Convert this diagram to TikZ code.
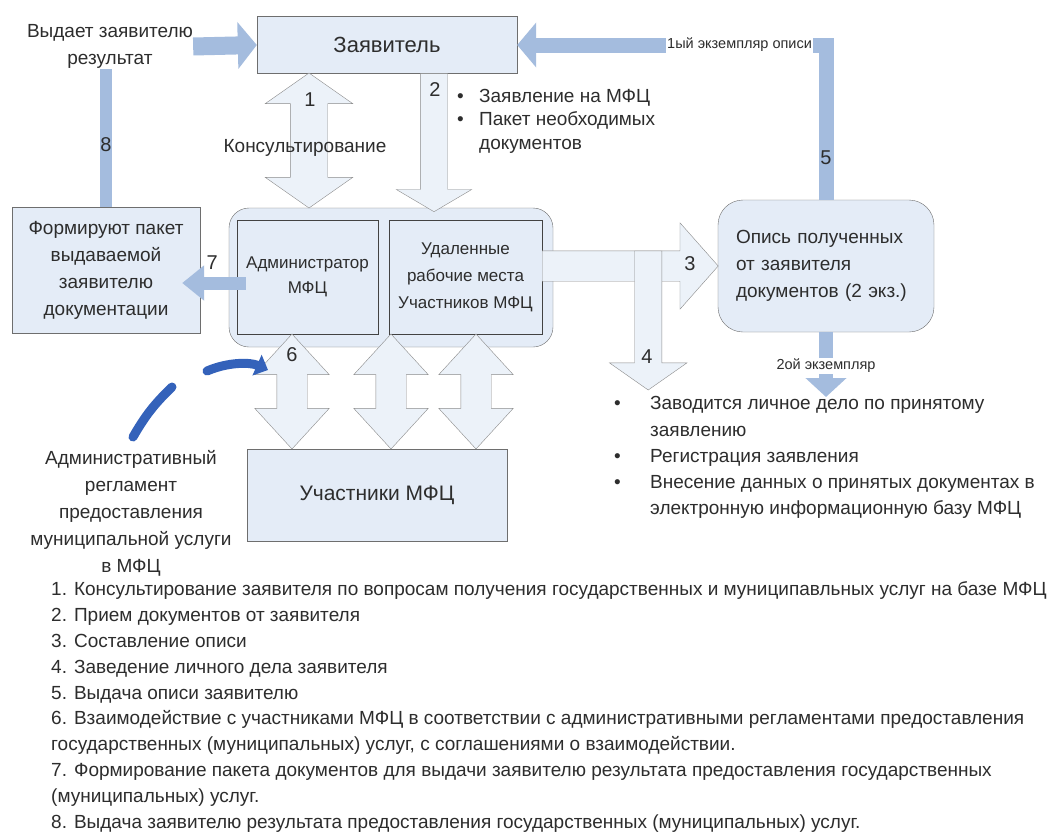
\documentclass[tikz,border=0pt]{standalone}
\usepackage{fontspec}
\setmainfont{Liberation Sans}
\usetikzlibrary{shapes.arrows, arrows.meta, positioning}
\definecolor{boxblue}{RGB}{228,236,247}
\definecolor{barblue}{RGB}{164,188,222}
\definecolor{edgegray}{RGB}{110,110,110}
\definecolor{curveblue}{RGB}{52,98,186}
\definecolor{txtgray}{RGB}{45,45,45}

\begin{document}
\begin{tikzpicture}[x=1pt, y=-1pt,
  box/.style={draw=edgegray, fill=boxblue, inner sep=0pt, align=center, text=txtgray, font=\fontsize{19}{27}\selectfont},
  lbl/.style={text=txtgray, inner sep=0pt, align=center, font=\fontsize{19}{27}\selectfont},
  txt/.style={text=txtgray, inner sep=0pt},
  num/.style={text=txtgray, inner sep=0pt, font=\fontsize{20}{20}\selectfont},
  tinylbl/.style={text=txtgray, fill=white, inner sep=1pt, font=\fontsize{14.5}{15}\selectfont},
  thickbar/.style={draw=barblue, line width=#1, line join=miter},
  blk/.style={draw=edgegray!80, fill=boxblue!70!white, inner sep=0pt, outer sep=0pt, minimum width=0pt},
  sarr/.style={blk, single arrow},
  darr/.style={blk, double arrow}
]
  \path[use as bounding box, fill=white] (0,0) rectangle (1059,838);

  % boxes
  \node[box, minimum width=260pt, minimum height=57pt, font=\fontsize{22}{26}\selectfont] (zayav) at (387,45) {Заявитель};
  \node[lbl] (vydaet) at (110,46.5) {Выдает заявителю\\результат};
  \node[box, minimum width=188pt, minimum height=126pt] (formir) at (106,270) {Формируют пакет\\выдаваемой\\заявителю\\документации};
  \node[box, rounded corners=20pt, minimum width=324pt, minimum height=139pt] (mfc) at (391,277.5) {};
  \node[box, draw=edgegray!60!black, minimum width=141pt, minimum height=114pt, font=\fontsize{17}{25}\selectfont] (admin) at (307.5,277) {Администратор\\МФЦ};
  \node[box, draw=edgegray!60!black, minimum width=153pt, minimum height=114pt, font=\fontsize{17}{27}\selectfont] (remote) at (465.5,277) {Удаленные\\рабочие места\\Участников МФЦ};
  \node[box, rounded corners=25pt, minimum width=216pt, minimum height=132pt, align=left, text width=180pt] (opis) at (826,266) {Опись полученных\\от заявителя\\документов (2 экз.)};
  \node[box, minimum width=260pt, minimum height=92pt, font=\fontsize{21}{25}\selectfont] (uch) at (377,495) {Участники МФЦ};
  \node[lbl, font=\fontsize{19}{27}\selectfont] (regl) at (131,513) {Административный\\регламент\\предоставления\\муниципальной услуги\\в МФЦ};

  % block arrows
  \node[darr, rotate=90, minimum height=135pt, inner ysep=18.5pt, double arrow head extend=25pt, double arrow tip angle=110] (a1) at (309,140.5) {};
  \node[sarr, anchor=tail, rotate=-90, minimum height=138pt, inner ysep=13.5pt, single arrow head extend=24pt, single arrow tip angle=119] (a2) at ([xshift=47pt]zayav.south) {};
  \node[sarr, anchor=tail, minimum height=176pt, inner ysep=15pt, single arrow head extend=28pt, single arrow tip angle=97] (a3) at ([yshift=11pt]remote.east) {};
  \node[sarr, anchor=tail, rotate=-90, minimum height=139pt, inner ysep=13.5pt, single arrow head extend=25pt, single arrow tip angle=110] (a4) at ([shift={(106,-15)}]a3.tail) {};
  \foreach \x/\n in {292/a6, 391/a6b, 476/a6c}
    \node[darr, rotate=90, minimum height=115pt, inner ysep=15pt, double arrow head extend=22pt, double arrow tip angle=85] (\n) at (\x,391.5) {};

  \node[num] (n1) at (310,100) {1};
  \node[num] (n2) at (435,90) {2};
  \node[num] (n3) at (690,264) {3};
  \node[num] (n4) at (647,357) {4};
  \node[num] (n6) at (292,355) {6};
  \node[lbl] (konsult) at (305,148) {Консультирование};

  % bars
  \draw[thickbar=18pt, -{Triangle[width=46pt,length=19pt]}] (vydaet.east) -- (zayav.west);
  \draw[thickbar=12pt] (formir.north) -- (formir.north |- vydaet.south) node[num, pos=0.45] (n8) {8};
  \draw[thickbar=13pt, -{Triangle[width=34pt,length=22pt]}] ([shift={(9,6)}]admin.west) -- ([shift={(-18,6)}]admin.west -| formir.east) node[num, pos=0.53, above=7pt] (n7) {7};
  \draw[thickbar=15pt, -{Triangle[width=44pt,length=19pt]}] (opis.north) |- (zayav.east)
    node[tinylbl, pos=0.64] (ex1) {1ый экземпляр описи}
    node[num, pos=0.135] (n5) {5};
  \coordinate (c2) at (826,397);
  \draw[thickbar=14pt, -{Triangle[width=40pt,length=19pt]}] (opis.south) -- (c2) node[tinylbl, pos=0.52] (ex2) {2ой экземпляр};

  % reglament curve
  \coordinate (b1) at (133,437);
  \coordinate (b2) at (172,387);
  \coordinate (b3) at (207,371);
  \coordinate (b4) at (268,370);
  \draw[curveblue, line width=9pt, line cap=round] (b1) to[bend left=8] (b2);
  \draw[curveblue, line width=9pt, line cap=round, -{Triangle[width=22pt,length=12pt]}] (b3) .. controls (228,362) and (250,362) .. (b4);

  % bullet texts
  \node[txt, anchor=west, font=\fontsize{19}{23.5}\selectfont] (bul2) at (457,121) {\begin{tabular}{@{}p{22pt}@{}l@{}}•&Заявление на МФЦ\\•&Пакет необходимых\\&документов\end{tabular}};
  \node[txt, anchor=west, font=\fontsize{19}{26.2}\selectfont] (bul4) at (614,457) {\begin{tabular}{@{}p{36pt}@{}l@{}}•&Заводится личное дело по принятому\\&заявлению\\•&Регистрация заявления\\•&Внесение данных о принятых документах в\\&электронную информационную базу МФЦ\end{tabular}};

  % legend
  \node[txt, anchor=west, align=left, font=\fontsize{19}{25.8}\selectfont] (legend) at (51,707) {1. Консультирование заявителя по вопросам получения государственных и муниципавльных услуг на базе МФЦ\\
2. Прием документов от заявителя\\
3. Составление описи\\
4. Заведение личного дела заявителя\\
5. Выдача описи заявителю\\
6. Взаимодействие с участниками МФЦ в соответствии с административными регламентами предоставления\\
государственных (муниципальных) услуг, с соглашениями о взаимодействии.\\
7. Формирование пакета документов для выдачи заявителю результата предоставления государственных\\
(муниципальных) услуг.\\
8. Выдача заявителю результата предоставления государственных (муниципальных) услуг.};
\end{tikzpicture}
\end{document}
